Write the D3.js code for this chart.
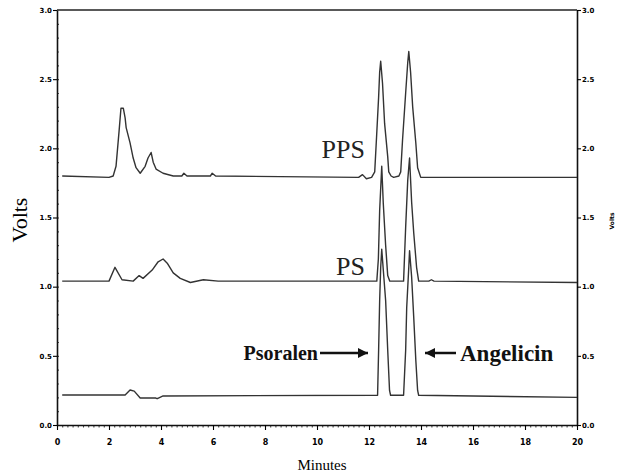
<!DOCTYPE html>
<html>
<head>
<meta charset="utf-8">
<script src="https://cdn.jsdelivr.net/npm/d3@7"></script>
<style>
  body { margin: 0; background: #fff; }
  .tick text { font-family: "DejaVu Sans", sans-serif; font-weight: bold; }
</style>
</head>
<body>
<div id="chart"></div>
<script>
// tick values
var xTicks = [0, 2, 4, 6, 8, 10, 12, 14, 16, 18, 20];
var yTicks = [0, 0.5, 1.0, 1.5, 2.0, 2.5, 3.0];

// traces: [minutes, volts]
var ppsTrace = [[0.2,1.80],[2.0,1.79],[2.16,1.80],[2.27,1.87],[2.39,2.13],[2.46,2.29],[2.55,2.29],[2.62,2.22],[2.66,2.15],[2.81,2.04],[2.93,1.93],[3.04,1.86],[3.2,1.82],[3.39,1.87],[3.5,1.93],[3.62,1.97],[3.7,1.90],[3.81,1.85],[4.08,1.82],[4.47,1.80],[4.8,1.80],[4.88,1.82],[5.0,1.80],[5.9,1.80],[5.97,1.82],[6.1,1.80],[11.6,1.79],[11.75,1.81],[11.9,1.78],[12.1,1.79],[12.22,1.83],[12.29,2.08],[12.37,2.37],[12.41,2.55],[12.45,2.63],[12.52,2.47],[12.60,2.18],[12.72,1.94],[12.76,1.83],[12.85,1.80],[12.95,1.79],[13.15,1.80],[13.22,1.83],[13.29,2.06],[13.41,2.40],[13.49,2.62],[13.53,2.70],[13.60,2.55],[13.68,2.30],[13.80,2.04],[13.87,1.86],[13.99,1.79],[20,1.79]];

var psTrace = [[0.2,1.04],[2.0,1.04],[2.23,1.14],[2.5,1.05],[2.93,1.04],[3.16,1.08],[3.31,1.06],[3.66,1.12],[3.89,1.18],[4.08,1.20],[4.24,1.17],[4.47,1.10],[4.74,1.06],[5.13,1.03],[5.63,1.05],[6.2,1.04],[12.30,1.04],[12.36,1.20],[12.41,1.55],[12.49,1.87],[12.55,1.60],[12.64,1.30],[12.72,1.08],[12.80,1.04],[13.33,1.04],[13.41,1.43],[13.49,1.77],[13.56,1.93],[13.64,1.61],[13.72,1.39],[13.83,1.14],[13.91,1.04],[14.3,1.04],[14.4,1.05],[14.5,1.04],[20,1.03]];

var baseTrace = [[0.2,0.217],[2.62,0.217],[2.81,0.253],[2.97,0.245],[3.2,0.195],[3.8,0.195],[3.85,0.19],[3.9,0.195],[4.08,0.21],[12.33,0.215],[12.37,0.54],[12.41,0.90],[12.45,1.14],[12.49,1.27],[12.55,1.12],[12.64,0.90],[12.72,0.54],[12.79,0.25],[12.83,0.215],[13.33,0.215],[13.41,0.54],[13.45,0.85],[13.53,1.14],[13.56,1.26],[13.64,1.07],[13.72,0.78],[13.80,0.47],[13.87,0.25],[13.91,0.215],[20,0.20]];

var svg = d3.select("#chart").append("svg")
    .attr("width", 620)
    .attr("height", 474);

var x = d3.scaleLinear().domain([0, 20]).range([57, 577]);
var y = d3.scaleLinear().domain([0, 3]).range([425, 10]);

// frame top
svg.append("line")
    .attr("x1", x(0)).attr("x2", x(20))
    .attr("y1", y(3)).attr("y2", y(3))
    .style("stroke", "#222")
    .style("stroke-width", 1.5);

// minor ticks
svg.append("g")
    .attr("transform", "translate(0," + y(0) + ")")
    .call(d3.axisBottom(x).ticks(100).tickSize(2.5).tickFormat(""))
    .call(function (g) { g.select(".domain").remove(); })
    .selectAll("line").style("stroke", "#444");
svg.append("g")
    .attr("transform", "translate(" + x(0) + ",0)")
    .call(d3.axisRight(y).ticks(30).tickSize(2).tickFormat(""))
    .call(function (g) { g.select(".domain").remove(); })
    .selectAll("line").style("stroke", "#555");

// x axis
var xAxis = svg.append("g")
    .attr("transform", "translate(0," + y(0) + ")")
    .call(d3.axisBottom(x).tickValues(xTicks).tickSize(5).tickPadding(9).tickSizeOuter(0));
xAxis.selectAll("text").style("font-size", "8px");

// left axis
var yAxis = svg.append("g")
    .attr("transform", "translate(" + x(0) + ",0)")
    .call(d3.axisLeft(y).tickValues(yTicks).tickSize(4).tickPadding(1).tickSizeOuter(0)
        .tickFormat(d3.format(".1f")));
yAxis.selectAll("text").style("font-size", "7px");

// right axis
var yAxisR = svg.append("g")
    .attr("transform", "translate(" + x(20) + ",0)")
    .call(d3.axisRight(y).tickValues(yTicks).tickSize(4).tickPadding(1).tickSizeOuter(0)
        .tickFormat(d3.format(".1f")));
yAxisR.selectAll("text").style("font-size", "7px");

svg.selectAll(".domain").style("stroke", "#111").style("stroke-width", 1.6);
svg.selectAll(".tick line").style("stroke-width", 1.1);

// traces
var line = d3.line()
    .x(function (d) { return x(d[0]); })
    .y(function (d) { return y(d[1]); });

[ppsTrace, psTrace, baseTrace].forEach(function (t) {
    svg.append("path")
        .datum(t)
        .attr("d", line)
        .style("fill", "none")
        .style("stroke", "#333")
        .style("stroke-width", 1.4)
        .style("stroke-linejoin", "round");
});

// axis titles
svg.append("text")
    .attr("transform", "translate(27,220) rotate(-90)")
    .attr("text-anchor", "middle")
    .style("font-family", "Liberation Serif, serif")
    .style("font-size", "22px")
    .text("Volts");

svg.append("text")
    .attr("transform", "translate(614,221) rotate(-90)")
    .attr("text-anchor", "middle")
    .style("font-family", "DejaVu Sans, sans-serif")
    .style("font-weight", "bold")
    .style("font-size", "6px")
    .text("Volts");

svg.append("text")
    .attr("x", 322)
    .attr("y", 470)
    .attr("text-anchor", "middle")
    .style("font-family", "Liberation Serif, serif")
    .style("font-size", "15px")
    .text("Minutes");

// labels
var defs = svg.append("defs");
defs.append("marker")
    .attr("id", "arrow")
    .attr("viewBox", "0 0 10 10")
    .attr("refX", 10)
    .attr("refY", 5)
    .attr("markerWidth", 10)
    .attr("markerHeight", 10)
    .attr("markerUnits", "userSpaceOnUse")
    .attr("orient", "auto")
    .append("path")
    .attr("d", "M0,0 L10,5 L0,10 Z")
    .style("fill", "#111");

svg.append("text")
    .attr("x", 365).attr("y", 158)
    .attr("text-anchor", "end")
    .style("font-family", "Liberation Serif, serif")
    .style("font-size", "26px")
    .style("fill", "#222")
    .text("PPS");

svg.append("text")
    .attr("x", 365).attr("y", 275)
    .attr("text-anchor", "end")
    .style("font-family", "Liberation Serif, serif")
    .style("font-size", "26px")
    .style("fill", "#222")
    .text("PS");

svg.append("text")
    .attr("x", 318).attr("y", 360)
    .attr("text-anchor", "end")
    .style("font-family", "Liberation Serif, serif")
    .style("font-weight", "bold")
    .style("font-size", "20px")
    .style("fill", "#111")
    .text("Psoralen");

svg.append("line")
    .attr("x1", 320).attr("y1", 353)
    .attr("x2", 368).attr("y2", 353)
    .style("stroke", "#111")
    .style("stroke-width", 2.5)
    .attr("marker-end", "url(#arrow)");

svg.append("line")
    .attr("x1", 456).attr("y1", 353)
    .attr("x2", 425).attr("y2", 353)
    .style("stroke", "#111")
    .style("stroke-width", 2.5)
    .attr("marker-end", "url(#arrow)");

svg.append("text")
    .attr("x", 460).attr("y", 361)
    .style("font-family", "Liberation Serif, serif")
    .style("font-weight", "bold")
    .style("font-size", "23px")
    .style("fill", "#111")
    .text("Angelicin");
</script>
</body>
</html>
